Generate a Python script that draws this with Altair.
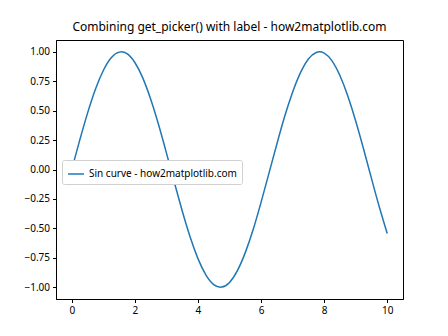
import altair as alt
import pandas as pd

x_vals = [0, 0.25, 0.5, 0.75, 1.0, 1.25, 1.5, 1.75, 2.0, 2.25, 2.5, 2.75, 3.0, 3.25, 3.5,
          3.75, 4.0, 4.25, 4.5, 4.75, 5.0, 5.25, 5.5, 5.75, 6.0, 6.25, 6.5, 6.75, 7.0,
          7.25, 7.5, 7.75, 8.0, 8.25, 8.5, 8.75, 9.0, 9.25, 9.5, 9.75, 10.0]
y_vals = [0.0, 0.247, 0.479, 0.682, 0.841, 0.949, 0.997, 0.984, 0.909, 0.778, 0.598, 0.382,
          0.141, -0.108, -0.351, -0.572, -0.757, -0.895, -0.978, -0.999, -0.959, -0.859,
          -0.706, -0.510, -0.279, -0.033, 0.215, 0.452, 0.657, 0.823, 0.938, 0.994, 0.989,
          0.923, 0.798, 0.624, 0.412, 0.174, -0.075, -0.319, -0.544]
series = "Sin curve - how2matplotlib.com"
x_ticks = [0, 2, 4, 6, 8, 10]
y_ticks = [-1.0, -0.75, -0.5, -0.25, 0.0, 0.25, 0.5, 0.75, 1.0]

df = pd.DataFrame({"x": x_vals, "y": y_vals, "series": series})

font = "Noto Sans"

chart = alt.Chart(df).mark_line(strokeWidth=1.5, interpolate="natural", clip=True).encode(
    x=alt.X("x:Q", scale=alt.Scale(domain=[-0.5, 10.5], nice=False, zero=False),
            axis=alt.Axis(values=x_ticks, title=None, grid=False, format="d")),
    y=alt.Y("y:Q", scale=alt.Scale(domain=[-1.1, 1.1], nice=False, zero=False),
            axis=alt.Axis(values=y_ticks, title=None, grid=False, format=".2f")),
    color=alt.Color("series:N", scale=alt.Scale(range=["#1f77b4"]),
                    legend=alt.Legend(title=None, orient="none", legendX=6, legendY=120,
                                      symbolType="stroke", symbolStrokeWidth=1.5, symbolSize=250,
                                      fillColor="white", strokeColor="#d0d0d0", cornerRadius=2,
                                      padding=5, labelFontSize=10, labelFont=font,
                                      labelColor="#000")),
).properties(
    width=347, height=259,
    background="white",
    title=alt.TitleParams("Combining get_picker() with label - how2matplotlib.com",
                          fontSize=12, fontWeight="normal", font=font, color="#000",
                          anchor="middle", offset=6),
    autosize=alt.AutoSizeParams(type="none"),
    padding={"left": 56, "top": 40, "right": 45, "bottom": 37},
).configure_view(stroke="#000", strokeWidth=1).configure_axis(
    domainColor="#000", tickColor="#000", tickSize=3.5, labelFontSize=10, labelFont=font,
    labelColor="#000", labelPadding=3
)

chart.save("out.html", embed_options={"renderer": "svg", "actions": False})
